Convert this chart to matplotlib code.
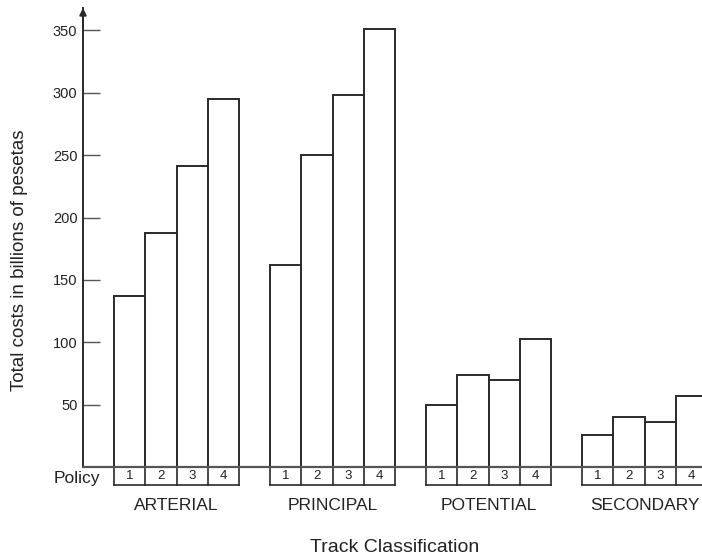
import matplotlib
matplotlib.use("Agg")
import matplotlib.pyplot as plt
from matplotlib.transforms import blended_transform_factory

plt.rcParams["font.family"] = ["Liberation Sans", "DejaVu Sans"]

categories = ["ARTERIAL", "PRINCIPAL", "POTENTIAL", "SECONDARY"]
policies = ["1", "2", "3", "4"]
costs = {
    "ARTERIAL": [137, 188, 241, 295],
    "PRINCIPAL": [162, 250, 298, 351],
    "POTENTIAL": [50, 74, 70, 103],
    "SECONDARY": [26, 40, 36, 57],
}
yticks = [50, 100, 150, 200, 250, 300, 350]

W, H = 702, 559
fig = plt.figure(figsize=(W / 100, H / 100), dpi=100)
ax_left = 83 / W
ax_bottom = (H - 467) / H
ax_top = (H - 8) / H
ax = fig.add_axes([ax_left, ax_bottom, 1.0 - ax_left, ax_top - ax_bottom])

edge = "#2a2a2a"
lw = 1.4
for gi, cat in enumerate(categories):
    start = 1 + gi * 5
    xs = [start + i + 0.5 for i in range(len(policies))]
    ax.bar(xs, costs[cat], width=1.0, color="white", edgecolor=edge,
           linewidth=lw, zorder=2)

ax.set_xlim(0, 19.84)
ax.set_ylim(0, 368)

for s in ["top", "right", "bottom"]:
    ax.spines[s].set_visible(False)
ax.spines["left"].set_linewidth(lw)
ax.spines["left"].set_color(edge)

# baseline
ax.axhline(0, color="#555555", linewidth=1.6, zorder=3, clip_on=False)

# arrow on y axis
ax.annotate("", xy=(0, 1.0), xycoords="axes fraction", xytext=(0, 0.96),
            textcoords="axes fraction",
            arrowprops=dict(arrowstyle="-|>", color=edge, lw=lw,
                            mutation_scale=10, shrinkA=0, shrinkB=0),
            annotation_clip=False)

ax.set_yticks(yticks)
ax.set_yticklabels([str(v) for v in yticks])
ax.tick_params(axis="y", direction="in", length=12, width=1.0, color="#555555",
               labelsize=10.5, pad=4, labelcolor="#222222")
ax.set_xticks([])

# policy boxes
tr = blended_transform_factory(ax.transData, ax.transAxes)
y_bot = -18 / 459
for gi, cat in enumerate(categories):
    start = 1 + gi * 5
    for i in range(len(policies) + 1):
        ax.plot([start + i, start + i], [0, y_bot], transform=tr, color=edge,
                linewidth=1.2, clip_on=False)
    ax.plot([start, start + 4], [y_bot, y_bot], transform=tr, color=edge,
            linewidth=1.2, clip_on=False)
    for i, p in enumerate(policies):
        ax.text(start + i + 0.5, y_bot / 2, p, transform=tr, ha="center",
                va="center", fontsize=9.5, color="#222222")
    ax.text(start + 2, -38 / 459, cat, transform=tr, ha="center", va="center",
            fontsize=12.5, color="#222222")

fig.text(100 / W, (H - 478) / H, "Policy", ha="right", va="center",
         fontsize=12.5, color="#222222")
fig.text(395 / W, (H - 547) / H, "Track Classification", ha="center",
         va="center", fontsize=14, color="#222222")
fig.text(20 / W, (H - 260) / H, "Total costs in billions of pesetas",
         rotation=90, ha="center", va="center", fontsize=13.5, color="#222222")

fig.savefig("out.png", dpi=100)
